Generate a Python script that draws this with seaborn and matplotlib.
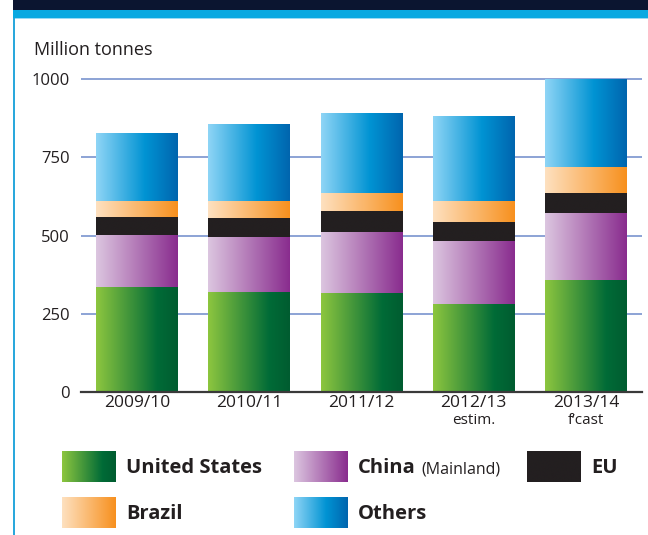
import numpy as np
import pandas as pd
import matplotlib
matplotlib.use("Agg")
import matplotlib.pyplot as plt
import seaborn as sns
from matplotlib.colors import LinearSegmentedColormap
from matplotlib.patches import Rectangle

# World maize production by origin, million tonnes
seasons = ["2009/10", "2010/11", "2011/12", "2012/13", "2013/14"]
season_notes = ["", "", "", "estim.", "f\u2019cast"]
united_states = [335, 319, 316, 278, 355]
china = [165, 176, 195, 204, 214]
eu = [59, 58, 67, 58, 64]
brazil = [51, 57, 55, 70, 83]
others = [217, 246, 258, 269, 281]

series_names = ["United States", "China", "EU", "Brazil", "Others"]
y_ticks = [0, 250, 500, 750, 1000]

# horizontal colour ramps (light on the left, dark on the right)
ramps = {
    "United States": [(0.0, "#8dc63f"), (0.75, "#006b37"), (1.0, "#005c30")],
    "China": [(0.0, "#dcc6e0"), (1.0, "#892c8e")],
    "EU": [(0.0, "#231f20"), (1.0, "#231f20")],
    "Brazil": [(0.0, "#fee1c0"), (1.0, "#f7901e")],
    "Others": [(0.0, "#8fd5f6"), (0.6, "#0093d3"), (1.0, "#0065ae")],
}
cmaps = {k: LinearSegmentedColormap.from_list(k, v) for k, v in ramps.items()}
ramp_row = np.linspace(0, 1, 256)[None, :]

TEXT = "#231f20"
W, H = 648, 535

sns.set_theme(style="white")
plt.rcParams["font.family"] = ["Open Sans", "DejaVu Sans"]

df = pd.DataFrame({
    "season": seasons,
    "United States": united_states,
    "China": china,
    "EU": eu,
    "Brazil": brazil,
    "Others": others,
})
cum = df[series_names].cumsum(axis=1)

fig = plt.figure(figsize=(W / 100, H / 100), dpi=100)
fig.patch.set_facecolor("white")

y_top = 1010
px_per_unit = 313 / 1000
ax_h = y_top * px_per_unit
ax = fig.add_axes([81 / W, 1 - 392 / H, 561 / W, ax_h / H])

# stacked bars: draw cumulative totals from the top series down
for layer, name in reversed(list(enumerate(series_names))):
    n_before = len(ax.patches)
    sns.barplot(x=df["season"], y=cum[name], width=0.73, color=ramps[name][-1][1],
                saturation=1, errorbar=None, ax=ax)
    for patch in ax.patches[n_before:]:
        x0, y0 = patch.get_x(), patch.get_y()
        w, h = patch.get_width(), patch.get_height()
        patch.set_facecolor("none")
        patch.set_edgecolor("none")
        ax.imshow(ramp_row, cmap=cmaps[name], extent=(x0, x0 + w, y0, y0 + h),
                  aspect="auto", interpolation="bilinear", zorder=2 + (5 - layer) * 0.1)

ax.set_xlim(-0.5, len(seasons) - 0.5)
ax.set_ylim(0, y_top)
ax.set_yticks(y_ticks)
ax.set_xlabel("")
ax.set_ylabel("")
ax.set_axisbelow(True)
ax.yaxis.grid(True, color="#8ca3d5", linewidth=1.4)
ax.xaxis.grid(False)
for side in ("top", "right", "left"):
    ax.spines[side].set_visible(False)
ax.spines["bottom"].set_color("#3a3a3a")
ax.spines["bottom"].set_linewidth(1.6)
ax.spines["bottom"].set_zorder(5)
ax.tick_params(axis="y", length=0, pad=8, labelsize=12, labelcolor=TEXT)
ax.tick_params(axis="x", length=0, pad=2, labelsize=12.5, labelcolor=TEXT)

for i, note in enumerate(season_notes):
    if note:
        ax.annotate(note, xy=(i, 0), xycoords=ax.get_xaxis_transform(),
                    xytext=(0, -15), textcoords="offset points",
                    ha="center", va="top", fontsize=11, color=TEXT)

fig.text(34 / W, 1 - 55 / H, "Million tonnes", fontsize=13, color=TEXT,
         ha="left", va="baseline")

# frame, header bands and legend, drawn in pixel coordinates
ov = fig.add_axes([0, 0, 1, 1], zorder=-1)
ov.axis("off")
ov.add_patch(Rectangle((13.3, 0), W - 13.3, 10, color="#0b1530", lw=0))
ov.add_patch(Rectangle((13.3, 10), W - 13.3, 8, color="#0aa9e1", lw=0))
ov.add_patch(Rectangle((13.3, 18), W - 13.3, 1.2, color="#9adaf3", lw=0))
ov.add_patch(Rectangle((13.3, 18), 1.6, H - 18, color="#2aa8dc", lw=0))

legend_slots = {
    "United States": (62, 451),
    "China": (294, 451),
    "EU": (527, 451),
    "Brazil": (62, 497),
    "Others": (294, 497),
}
sw, sh = 54, 31
for name, (lx, ly) in legend_slots.items():
    ov.imshow(ramp_row, cmap=cmaps[name], extent=(lx, lx + sw, ly + sh, ly),
              aspect="auto", interpolation="bilinear", zorder=2)

label_fs = 14.5
ov.set_xlim(0, W)
ov.set_ylim(H, 0)
renderer = fig.canvas.get_renderer()
for name, (lx, ly) in legend_slots.items():
    t = ov.text(lx + sw + 10, ly + sh / 2 + 1.5, name, fontsize=label_fs, fontweight="bold",
                color=TEXT, ha="left", va="center")
    if name == "China":
        bb = t.get_window_extent(renderer)
        ov.text(bb.x1 + 6, ly + sh / 2 + 2.5, "(Mainland)", fontsize=11.5, color=TEXT,
                ha="left", va="center")

ov.set_xlim(0, W)
ov.set_ylim(H, 0)

fig.savefig("out.png", dpi=100)
